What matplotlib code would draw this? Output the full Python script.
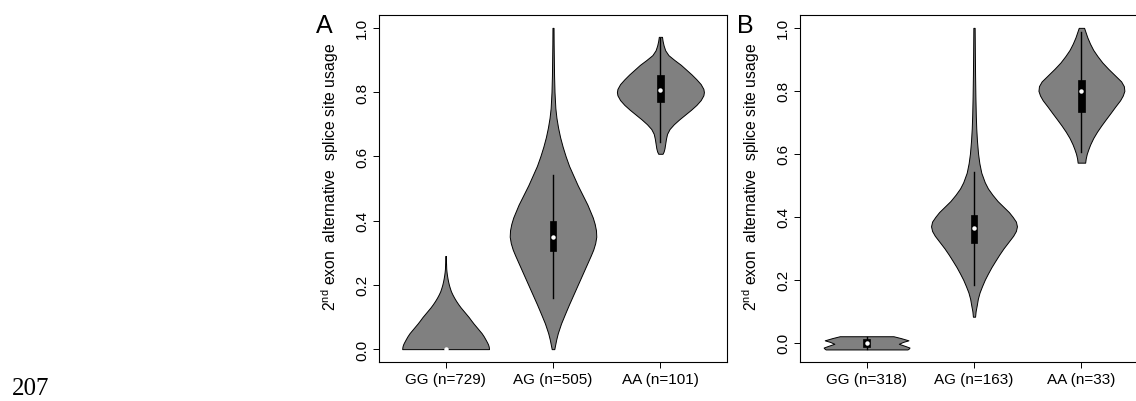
import matplotlib
matplotlib.use("Agg")
import matplotlib.pyplot as plt
from matplotlib.patches import Rectangle

plt.rcParams['font.family'] = ['Liberation Sans', 'DejaVu Sans']
plt.rcParams['mathtext.fontset'] = 'custom'
plt.rcParams['mathtext.rm'] = 'Liberation Sans'

# ---------------- data ----------------
categories = ["GG", "AG", "AA"]
counts_a = [729, 505, 101]
counts_b = [318, 163, 33]
yticks = [0.0, 0.2, 0.4, 0.6, 0.8, 1.0]

# Panel A violin profiles (value, half-width in category units)
a_gg_y = [0, 0.005, 0.01, 0.015, 0.02, 0.03, 0.04, 0.05, 0.06, 0.07, 0.08, 0.09, 0.10, 0.11, 0.12,
          0.13, 0.14, 0.15, 0.16, 0.17, 0.18, 0.19, 0.20, 0.21, 0.22, 0.23, 0.24, 0.25, 0.27, 0.29]
a_gg_w = [0.404, 0.403, 0.40, 0.395, 0.388, 0.372, 0.355, 0.335, 0.31, 0.285, 0.26, 0.237, 0.215, 0.19, 0.165,
          0.14, 0.118, 0.098, 0.08, 0.064, 0.05, 0.04, 0.031, 0.024, 0.018, 0.013, 0.009, 0.006, 0.004, 0.003]
a_ag_y = [0, 0.01, 0.03, 0.05, 0.08, 0.11, 0.14, 0.17, 0.20, 0.23, 0.26, 0.29, 0.31, 0.33, 0.35, 0.37, 0.39,
          0.41, 0.43, 0.45, 0.48, 0.51, 0.54, 0.57, 0.60, 0.63, 0.66, 0.69, 0.72, 0.75, 0.80, 0.85, 0.90, 0.95, 1.0]
a_ag_w = [0.012, 0.018, 0.03, 0.045, 0.075, 0.112, 0.15, 0.19, 0.23, 0.27, 0.31, 0.35, 0.375, 0.393, 0.403, 0.40, 0.388,
          0.37, 0.345, 0.32, 0.275, 0.23, 0.19, 0.15, 0.118, 0.09, 0.066, 0.047, 0.032, 0.022, 0.014, 0.01, 0.008, 0.006, 0.005]
a_aa_y = [0.608, 0.615, 0.625, 0.64, 0.655, 0.67, 0.685, 0.70, 0.715, 0.73, 0.745, 0.76, 0.775, 0.79, 0.80,
          0.81, 0.825, 0.84, 0.855, 0.87, 0.885, 0.90, 0.915, 0.93, 0.945, 0.96, 0.972]
a_aa_w = [0.02, 0.03, 0.038, 0.045, 0.052, 0.062, 0.085, 0.125, 0.175, 0.23, 0.285, 0.335, 0.375, 0.40, 0.405,
          0.40, 0.375, 0.335, 0.29, 0.24, 0.19, 0.13, 0.075, 0.045, 0.03, 0.02, 0.015]

# Panel A box statistics: whisker low, q1, median, q3, whisker high
a_whisk_lo = [0.0, 0.160, 0.646]
a_q1 = [0.0, 0.304, 0.768]
a_median = [0.0, 0.348, 0.806]
a_q3 = [0.0, 0.400, 0.853]
a_whisk_hi = [0.0, 0.543, 0.967]

# Panel B violin profiles
b_gg_y = [-0.021, -0.019, -0.015, -0.01, -0.003, 0.003, 0.008, 0.015, 0.021]
b_gg_w = [0.38, 0.39, 0.40, 0.36, 0.30, 0.34, 0.39, 0.32, 0.25]
b_ag_y = [0.083, 0.10, 0.12, 0.14, 0.16, 0.18, 0.20, 0.22, 0.24, 0.26, 0.28, 0.30, 0.32, 0.34, 0.355, 0.37, 0.385,
          0.40, 0.415, 0.43, 0.45, 0.47, 0.49, 0.51, 0.54, 0.57, 0.60, 0.64, 0.68, 0.72, 0.78, 0.85, 0.92, 1.0]
b_ag_w = [0.01, 0.015, 0.026, 0.036, 0.052, 0.075, 0.1, 0.13, 0.162, 0.198, 0.235, 0.275, 0.32, 0.365, 0.39, 0.40, 0.39,
          0.36, 0.325, 0.28, 0.22, 0.172, 0.13, 0.1, 0.068, 0.05, 0.038, 0.028, 0.021, 0.017, 0.013, 0.01, 0.008, 0.006]
b_aa_y = [0.572, 0.585, 0.60, 0.615, 0.63, 0.65, 0.67, 0.69, 0.71, 0.73, 0.75, 0.77, 0.785, 0.80, 0.815,
          0.83, 0.85, 0.87, 0.89, 0.91, 0.93, 0.95, 0.97, 0.985, 1.0]
b_aa_w = [0.035, 0.04, 0.05, 0.065, 0.082, 0.11, 0.145, 0.185, 0.228, 0.272, 0.315, 0.36, 0.385, 0.40, 0.395,
          0.37, 0.31, 0.25, 0.195, 0.15, 0.11, 0.08, 0.055, 0.04, 0.025]

b_whisk_lo = [-0.02, 0.185, 0.606]
b_q1 = [-0.013, 0.317, 0.733]
b_median = [0.0, 0.365, 0.801]
b_q3 = [0.012, 0.407, 0.836]
b_whisk_hi = [0.02, 0.543, 0.987]

# ---------------- drawing ----------------
fig = plt.figure(figsize=(11.36, 4.02), dpi=100)
FS = 11

def draw_panel(rect, profiles, wlo, q1, med, q3, whi, counts, ylim, letter):
    ax = fig.add_axes(rect)
    for i, (py, pw) in enumerate(profiles):
        pos = i + 1
        ax.fill_betweenx(py, [pos - w for w in pw], [pos + w for w in pw],
                         facecolor='#808080', edgecolor='black', linewidth=0.7,
                         joinstyle='round', zorder=2)
        if whi[i] > wlo[i]:
            ax.plot([pos, pos], [wlo[i], whi[i]], color='black', linewidth=1.0, zorder=3)
        ax.add_patch(Rectangle((pos - 0.03, q1[i]), 0.06, q3[i] - q1[i],
                               facecolor='black', edgecolor='black', linewidth=0.5, zorder=4))
        ax.plot([pos], [med[i]], marker='o', markersize=3.2, color='white',
                markeredgewidth=0, zorder=5)
    ax.set_xlim(0.38, 3.62)
    ax.set_ylim(*ylim)
    ax.set_xticks([1, 2, 3])
    ax.set_xticklabels([f"{c} (n={n})" for c, n in zip(categories, counts)], fontsize=FS)
    ax.set_yticks(yticks)
    ax.set_yticklabels([f"{t:.1f}" for t in yticks], fontsize=FS, rotation=90, va='center')
    ax.tick_params(axis='both', length=4.5, width=0.7, pad=2.5, color='black')
    for s in ax.spines.values():
        s.set_linewidth(0.8)
    ax.set_ylabel(r"2$^{\rm nd}$ exon  alternative  splice site usage", fontsize=11.3)
    ax.yaxis.set_label_coords(-38 / 348, 0.535)
    fig.text(rect[0] - 0.048, 0.935, letter, fontsize=18, ha='center', va='center')
    return ax

draw_panel([379 / 1136, 39 / 402, 348 / 1136, 347 / 402],
           [(a_gg_y, a_gg_w), (a_ag_y, a_ag_w), (a_aa_y, a_aa_w)],
           a_whisk_lo, a_q1, a_median, a_q3, a_whisk_hi, counts_a, (-0.04, 1.04), "A")
draw_panel([800 / 1136, 39 / 402, 348 / 1136, 347 / 402],
           [(b_gg_y, b_gg_w), (b_ag_y, b_ag_w), (b_aa_y, b_aa_w)],
           b_whisk_lo, b_q1, b_median, b_q3, b_whisk_hi, counts_b, (-0.0608, 1.0408), "B")

fig.text(12 / 1136, 1 - 395 / 402, "207", family=['Liberation Serif', 'DejaVu Serif'],
         fontsize=18, ha='left', va='baseline')

fig.savefig("out.png", dpi=100)
